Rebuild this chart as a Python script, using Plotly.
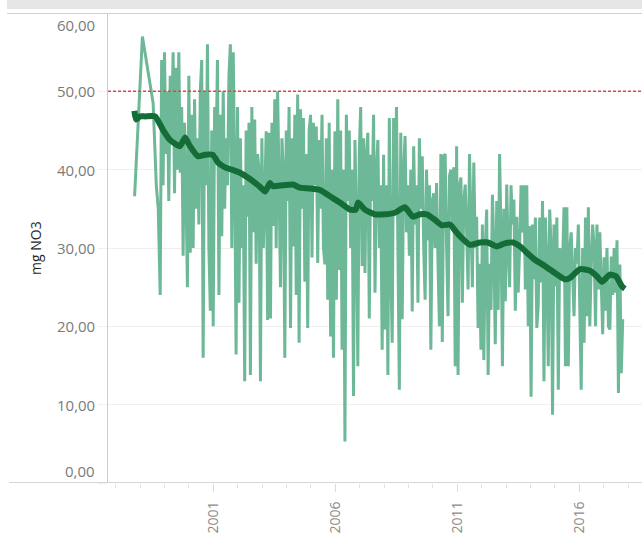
import numpy as np
import plotly.graph_objects as go

# ---- data ----
early_year = [1997.77, 1998.09, 1998.53, 1998.66, 1998.74]
early_value = [36.6, 57.0, 48.5, 38.0, 35.0]

dense_start, dense_end = 1998.82, 2017.78
dense_value = [
    24, 54, 38, 55, 42, 50, 36, 52, 44, 55,
    37, 53, 40, 55, 39.6, 48, 29, 46, 38, 25,
    52, 29.4, 47, 30, 49, 35, 44, 33, 50, 54,
    16, 50, 38, 56, 30, 22, 45, 20, 48, 42,
    54, 24, 47, 31.5, 50, 35, 44, 38, 52, 56,
    30, 55, 40, 16.4, 48, 23, 44, 30, 38, 13,
    45, 34, 46, 13.8, 48, 32, 46.4, 28, 42, 40,
    13, 44, 30, 36, 44.9, 20.8, 44.7, 21, 46, 32.8,
    49, 30, 50, 38, 25, 44, 40, 16, 45, 36,
    48, 19.8, 44, 30.2, 47, 24, 49.6, 17.9, 47.7, 35,
    46.6, 25.7, 42, 19.8, 45, 47, 28.8, 46, 38, 45.5,
    28.1, 43.8, 35, 47, 30, 27.9, 44, 23.4, 46, 18.7,
    40, 16, 44.9, 23.4, 49, 27.2, 45, 17, 40, 5.3,
    47, 36, 45, 30, 40, 11.1, 43.8, 34, 14.9, 42.2,
    48, 27.7, 44, 26.8, 41.9, 44.7, 21, 41.9, 36, 47,
    24.3, 40, 43.8, 30, 38, 17, 41.9, 19.6, 38, 13.8,
    46.6, 28, 17.9, 46.6, 35, 48, 30, 11.9, 44.7, 20.9,
    40, 44.3, 32, 38, 29, 40, 21.9, 43, 33, 38,
    23, 44, 35, 41.7, 30, 23.4, 40, 31, 38, 17,
    36, 37, 30, 38.3, 28, 20, 42, 18, 41.7, 42,
    30, 21.3, 39.2, 40, 33, 40.3, 14.9, 43, 13.8, 38,
    39, 23, 36, 38.1, 32, 24.7, 42, 35, 25, 40.9,
    30, 34, 19.8, 28, 17, 33, 15.7, 30, 34.9, 13.8,
    28, 22.1, 36.8, 30, 17.7, 36, 22.1, 42, 32, 14.9,
    35, 23.2, 38.1, 30, 25, 38, 33, 36.2, 22, 34,
    24.3, 30, 38, 32, 38, 24.7, 38, 20, 32.8, 11,
    33, 26, 33.9, 19.8, 22.6, 33.9, 25.6, 36, 13, 33.9,
    28, 14.9, 34.9, 30, 8.7, 33, 25.1, 33.9, 11.9, 30,
    26, 28, 35.2, 14.9, 35.2, 14.9, 30, 32, 26, 21.3,
    30, 28, 33, 24, 11.9, 30, 17.9, 33.9, 21.3, 35.2,
    20, 28, 33, 30, 20, 33, 24.7, 32, 26, 19,
    28.8, 22, 30, 20, 19.6, 28.9, 24, 30, 24.3, 31,
    11.5, 27.9, 14, 20.9,
]

trend_year = [1997.76, 1997.83, 1997.99, 1998.20, 1998.61, 1998.93, 1999.22, 1999.63,
              1999.84, 2000.04, 2000.37, 2000.66, 2000.98, 2001.19, 2001.48, 2001.76,
              2002.09, 2002.50, 2002.91, 2003.12, 2003.32, 2003.44, 2003.85, 2004.26,
              2004.55, 2004.96, 2005.37, 2005.78, 2006.19, 2006.60, 2006.84, 2006.93,
              2007.21, 2007.62, 2008.03, 2008.44, 2008.85, 2009.18, 2009.47, 2009.75,
              2010.08, 2010.37, 2010.70, 2010.94, 2011.11, 2011.52, 2011.93, 2012.25,
              2012.62, 2012.95, 2013.28, 2013.57, 2013.85, 2014.18, 2014.59, 2015.00,
              2015.41, 2015.62, 2016.03, 2016.44, 2016.72, 2016.93, 2017.25, 2017.50,
              2017.75, 2017.87]
trend_value = [47.5, 46.4, 46.8, 46.8, 46.8, 45.1, 43.8, 43.0,
               44.1, 43.0, 41.7, 41.9, 41.9, 40.9, 40.3, 40.0,
               39.6, 38.8, 37.8, 37.2, 38.3, 37.9, 38.0, 38.1,
               37.7, 37.6, 37.4, 36.6, 35.8, 34.9, 34.9, 35.8,
               34.9, 34.3, 34.3, 34.5, 35.2, 34.0, 34.3, 34.3,
               33.6, 32.9, 33.0, 32.1, 31.5, 30.4, 30.7, 30.7,
               30.2, 30.6, 30.7, 30.2, 29.4, 28.5, 27.7, 26.8,
               26.0, 26.2, 27.3, 27.1, 26.4, 25.7, 26.6, 26.4,
               25.1, 24.8]

limit_value = 50
y_ticks = [0, 10, 20, 30, 40, 50, 60]
x_major_ticks = [2001, 2006, 2011, 2016]

# ---- figure ----
meas_x = early_year + list(np.linspace(dense_start, dense_end, len(dense_value)))
meas_y = early_value + dense_value

W, H = 642, 535
L, R, T, B = 108, 0, 13, 52
PW, PH = W - L - R, H - T - B

def px_x(p):
    return (p - L) / PW

def px_y(p):
    return (H - B - p) / PH

fig = go.Figure()
fig.add_trace(go.Scatter(x=meas_x, y=meas_y, mode="lines",
                         line=dict(color="#6DB897", width=3),
                         hoverinfo="skip", showlegend=False))
fig.add_trace(go.Scatter(x=trend_year, y=trend_value, mode="lines",
                         line=dict(color="#146C36", width=6, shape="spline", smoothing=0.5),
                         hoverinfo="skip", showlegend=False))

font = "Open Sans, Liberation Sans, Arial, sans-serif"

fig.update_layout(
    width=W, height=H,
    margin=dict(l=L, r=R, t=T, b=B, pad=0, autoexpand=False),
    paper_bgcolor="white", plot_bgcolor="white",
    font=dict(family=font),
    xaxis=dict(range=[1996.68, 2018.57], automargin=False,
               showgrid=False, zeroline=False, showline=False,
               tickmode="array", tickvals=x_major_ticks, ticktext=[str(v) for v in x_major_ticks],
               tickangle=-90, ticks="outside", ticklen=8, tickcolor="#dcdcdc", tickwidth=1,
               tickfont=dict(size=14, color="#8a8a8a", family=font),
               ticklabelstandoff=4,
               minor=dict(dtick=1, tick0=2001, ticks="outside", ticklen=4,
                          tickcolor="#e3e3e3", showgrid=False)),
    yaxis=dict(range=[0, 60], automargin=False, tickvals=y_ticks, showticklabels=False,
               showgrid=True, gridcolor="#efefef", gridwidth=1, zeroline=False,
               ticks="outside", ticklen=9, tickcolor="#efefef",
               showline=True, linecolor="#cccccc", linewidth=1),
)

# tick labels of y axis (as text annotations, first/last nudged inside like the reference)
for v in y_ticks:
    shift = -12 if v == 60 else (12 if v == 0 else 0)
    fig.add_annotation(x=px_x(97), xref="paper", y=v, yref="y", yshift=shift,
                       text=f"{v},00", showarrow=False, xanchor="right", yanchor="middle",
                       font=dict(size=15, color="#7a7a7a", family=font))

fig.add_annotation(x=px_x(35), xref="paper", y=0.5, yref="paper", text="mg NO3",
                   textangle=-90, showarrow=False, xanchor="center", yanchor="middle",
                   font=dict(size=14, color="#262626", family=font))

# reference line
fig.add_shape(type="line", xref="paper", x0=0, x1=1, yref="y", y0=limit_value, y1=limit_value,
              line=dict(color="#E0474C", width=1.5, dash="3px,2px"), layer="above")
# frame lines and header band
fig.add_shape(type="rect", xref="paper", x0=px_x(7), x1=1, yref="paper", y0=px_y(9), y1=px_y(0),
              fillcolor="#e6e6e6", line=dict(width=0), layer="above")
fig.add_shape(type="line", xref="paper", x0=px_x(7), x1=1, yref="y", y0=60, y1=60,
              line=dict(color="#d0d0d0", width=2), layer="above")
fig.add_shape(type="line", xref="paper", x0=px_x(9), x1=1, yref="y", y0=0, y1=0,
              line=dict(color="#c8c8c8", width=1.3), layer="above")

fig.write_html("out.html", config={"displayModeBar": False},
               post_script="document.body.style.margin='0';document.body.style.overflow='hidden';")
